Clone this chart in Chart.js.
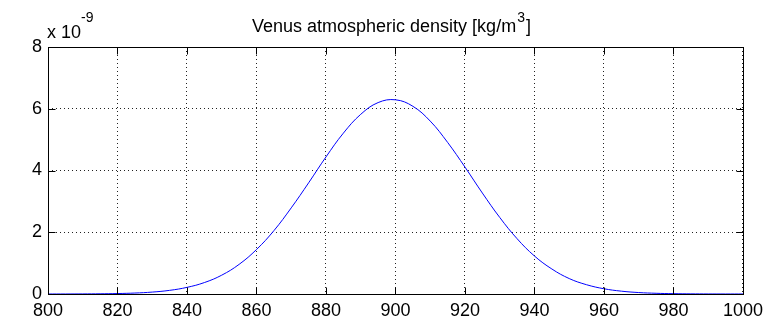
<!DOCTYPE html>
<html lang="en">
<head>
  <meta charset="UTF-8" />
  <title>Venus atmospheric density</title>
  <script src="https://cdn.jsdelivr.net/npm/chart.js"></script>
  <style>
    body {
      margin: 0;
      background: #fff;
    }
    #chartWrap {
      width: 769px;
      height: 323px;
    }
  </style>
</head>
<body>
  <div id="chartWrap">
    <canvas id="densityChart" width="769" height="323"></canvas>
  </div>

  <script>
    // altitude [km] and density in units of 1e-9 kg/m^3
    const altitudes = [800, 805, 810, 815, 820, 825, 830, 835, 840, 845,
                       850, 855, 860, 865, 870, 875, 880, 885, 890, 895,
                       900, 905, 910, 915, 920, 925, 930, 935, 940, 945,
                       950, 955, 960, 965, 970, 975, 980, 985, 990, 995, 1000];
    const density = [0.0004, 0.001, 0.003, 0.007, 0.015, 0.031, 0.062, 0.118, 0.215, 0.37,
                     0.61, 0.96, 1.44, 2.05, 2.79, 3.60, 4.44, 5.21, 5.82, 6.20,
                     6.29, 6.08, 5.60, 4.91, 4.11, 3.27, 2.48, 1.79, 1.23, 0.81,
                     0.50, 0.30, 0.17, 0.092, 0.047, 0.023, 0.011, 0.005, 0.002, 0.001, 0.0004];

    const xRange = [800, 1000];
    const yRange = [0, 8];
    const xStep = 20;
    const yStep = 2;
    const titleText = 'Venus atmospheric density [kg/m';
    const exponentLabel = ['x 10', '-9'];

    const FONT = '"Liberation Sans", Arial, sans-serif';

    // MATLAB-like box, inward ticks, title and exponent label
    const matlabAxes = {
      id: 'matlabAxes',
      afterDraw(chart) {
        const ctx = chart.ctx;
        const area = chart.chartArea;
        const xs = chart.scales.x;
        const ys = chart.scales.y;
        const L = Math.round(area.left) + 0.5;
        const R = Math.round(area.right) + 0.5;
        const T = Math.round(area.top) + 0.5;
        const B = Math.round(area.bottom) + 0.5;
        const tick = 7;

        ctx.save();
        ctx.strokeStyle = '#000';
        ctx.lineWidth = 1;
        ctx.strokeRect(L, T, R - L, B - T);

        ctx.beginPath();
        xs.ticks.forEach(t => {
          const px = Math.round(xs.getPixelForValue(t.value)) + 0.5;
          ctx.moveTo(px, B); ctx.lineTo(px, B - tick);
          ctx.moveTo(px, T); ctx.lineTo(px, T + tick);
        });
        ys.ticks.forEach(t => {
          const py = Math.round(ys.getPixelForValue(t.value)) + 0.5;
          ctx.moveTo(L, py); ctx.lineTo(L + tick, py);
          ctx.moveTo(R, py); ctx.lineTo(R - tick, py);
        });
        ctx.stroke();

        // title with superscript
        ctx.fillStyle = '#000';
        ctx.textBaseline = 'alphabetic';
        ctx.font = '18px ' + FONT;
        const w1 = ctx.measureText(titleText).width;
        ctx.font = '14px ' + FONT;
        const w2 = ctx.measureText('3').width;
        ctx.font = '18px ' + FONT;
        const w3 = ctx.measureText(']').width;
        let tx = 252;
        ctx.fillText(titleText, tx, 32);
        tx += w1 + 1;
        ctx.font = '14px ' + FONT;
        ctx.fillText('3', tx, 22);
        tx += w2 + 1;
        ctx.font = '18px ' + FONT;
        ctx.fillText(']', tx, 32);

        // exponent label
        ctx.font = '18px ' + FONT;
        ctx.fillText(exponentLabel[0], 47, 38);
        const we = ctx.measureText(exponentLabel[0]).width;
        ctx.font = '14px ' + FONT;
        ctx.fillText(exponentLabel[1], 47 + we, 22);
        ctx.restore();
      }
    };

    new Chart(document.getElementById('densityChart'), {
      type: 'line',
      data: {
        datasets: [{
          data: altitudes.map((a, i) => ({ x: a, y: density[i] })),
          borderColor: '#0000ff',
          borderWidth: 1,
          pointRadius: 0,
          tension: 0.4,
          fill: false
        }]
      },
      options: {
        responsive: false,
        animation: false,
        devicePixelRatio: 1,
        layout: { padding: { top: 47, right: 22, left: 0, bottom: 0 } },
        plugins: {
          legend: { display: false },
          tooltip: { enabled: false }
        },
        scales: {
          x: {
            type: 'linear',
            min: xRange[0],
            max: xRange[1],
            afterFit(scale) { scale.height = 29; },
            ticks: {
              stepSize: xStep,
              color: '#000',
              padding: 6,
              maxRotation: 0,
              callback: v => String(v),
              font: { family: FONT, size: 18 }
            },
            grid: { color: '#222', drawTicks: false },
            border: { display: false, dash: [1, 3] }
          },
          y: {
            min: yRange[0],
            max: yRange[1],
            afterFit(scale) { scale.width = 48; },
            ticks: {
              stepSize: yStep,
              color: '#000',
              padding: 6,
              callback: v => String(v),
              font: { family: FONT, size: 18 }
            },
            grid: { color: '#222', drawTicks: false },
            border: { display: false, dash: [1, 3] }
          }
        }
      },
      plugins: [matlabAxes]
    });
  </script>
</body>
</html>
